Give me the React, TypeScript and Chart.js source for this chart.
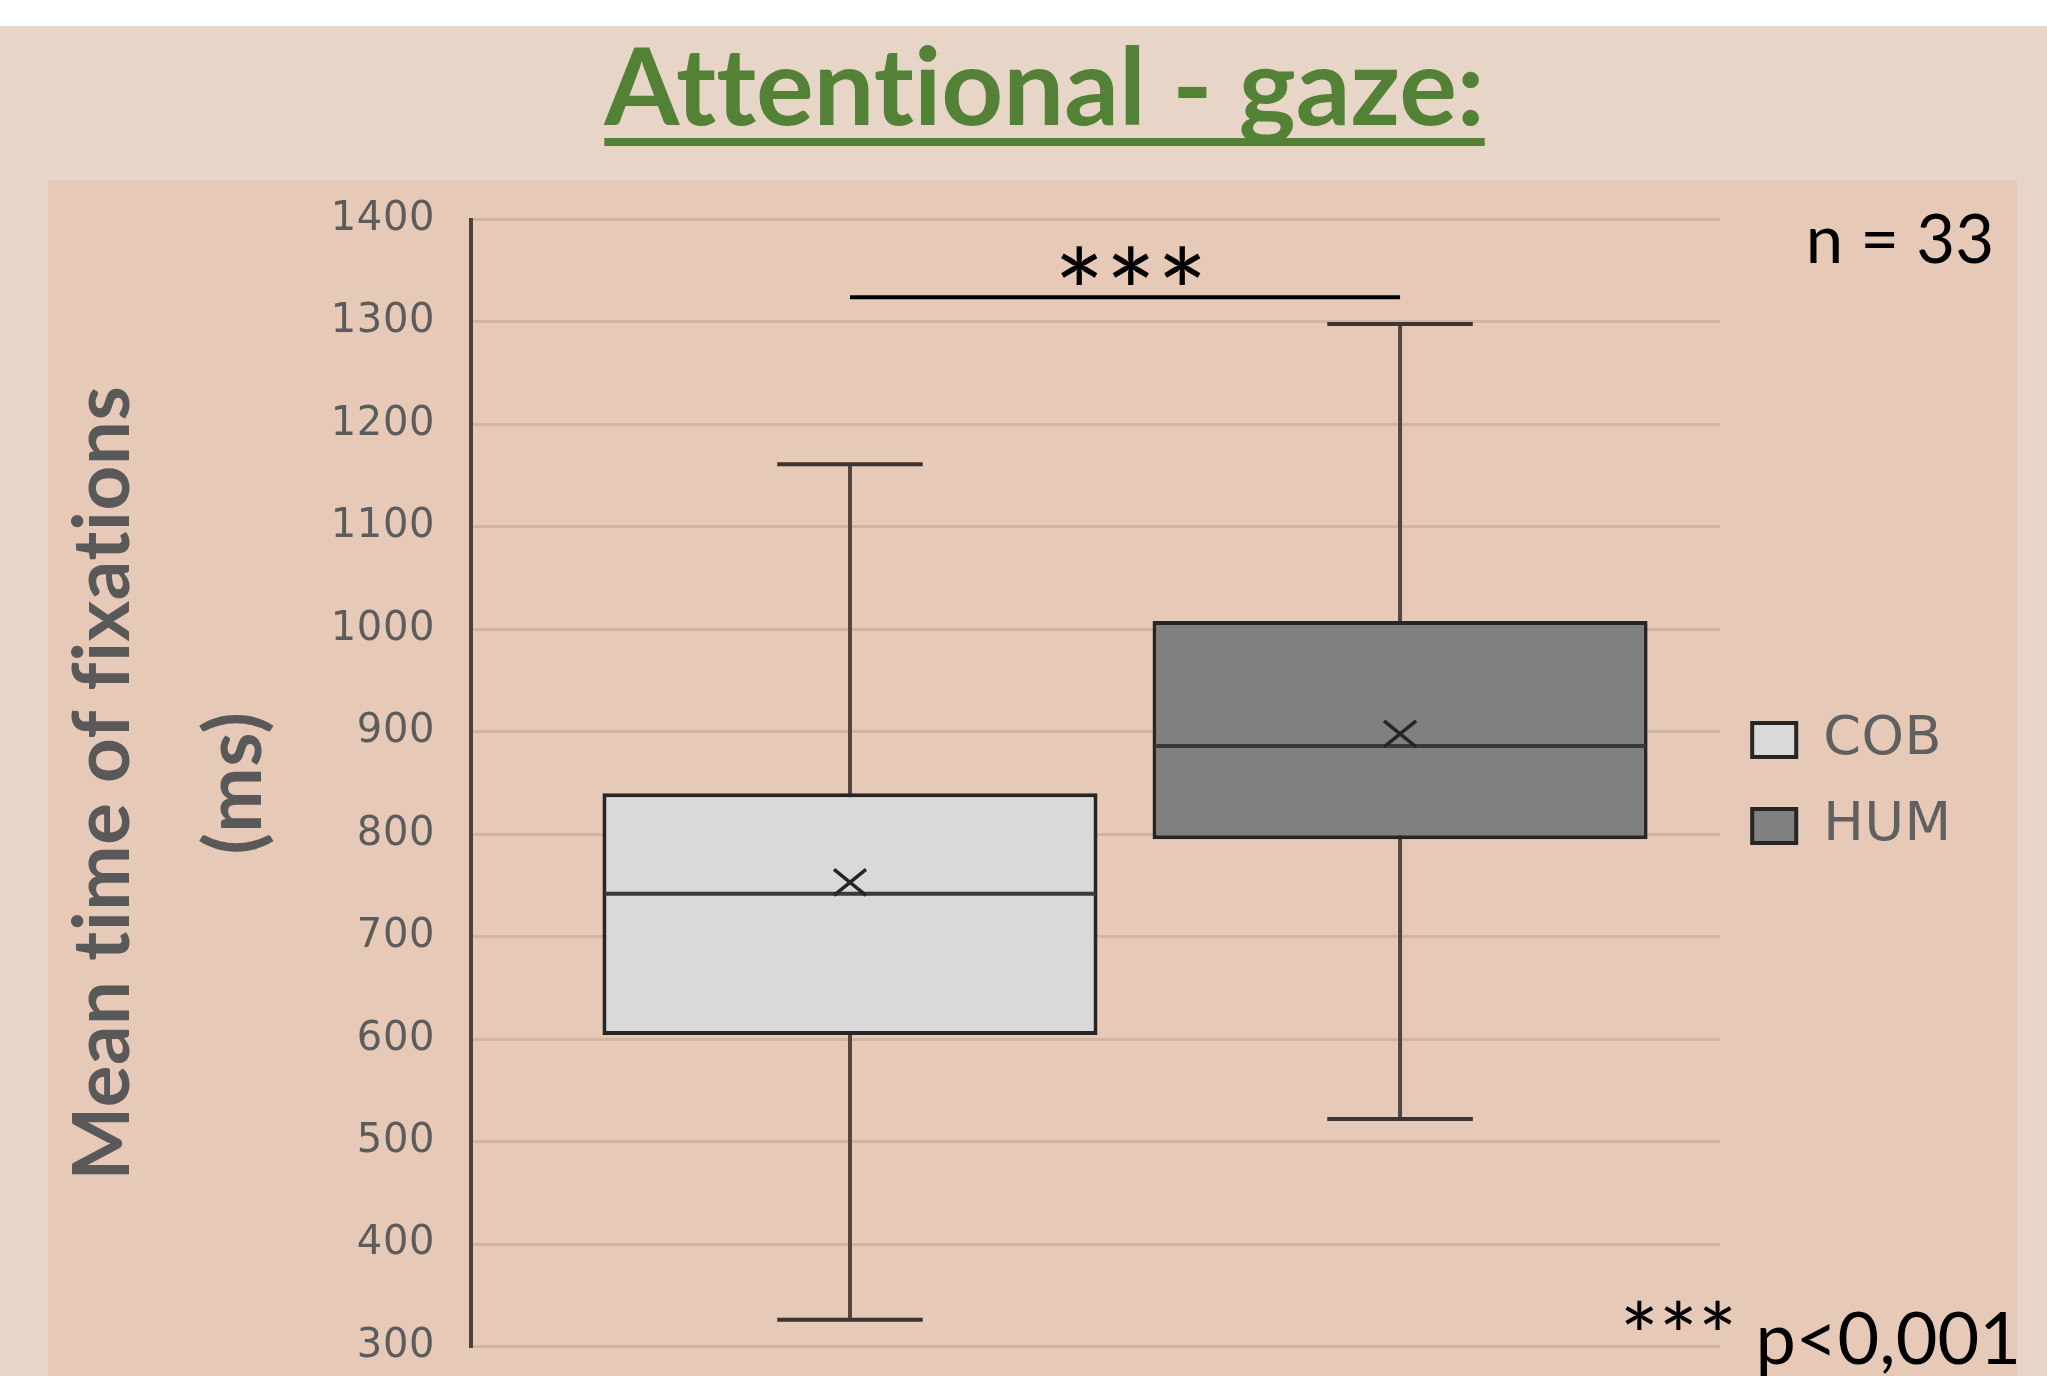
import React, { useEffect, useRef } from 'react';
import { Chart, registerables } from 'chart.js';

Chart.register(...registerables);

// ---- data ----
const groups = ['COB', 'HUM'];
const lowerWhisker = [326, 522];
const q1 = [604, 795];
const median = [742, 886];
const q3 = [840, 1008];
const upperWhisker = [1161, 1298];
const mean = [753, 898];
const boxColors = ['#D9D9D9', '#808080'];

const yMin = 300;
const yMax = 1400;
const yStep = 100;

const significanceLevel = 1324;
const significanceLabel = '***';
const titleText = 'Attentional - gaze:';
const yTitleLines = ['Mean time of fixations', '(ms)'];
const sampleLabel = 'n = 33';
const pStars = '***';
const pValueText = ' p<0,001';

const W = 2047;
const H = 1376;
const PLOT_RIGHT = 1722;

const noLigaturePlugin = {
  id: 'noLigatures',
  beforeDraw(chart: any) {
    const ctx = chart.ctx as any;
    try {
      ctx.letterSpacing = '0.6px';
    } catch (e) {
      /* ignore */
    }
  },
};

const boxPlotPlugin = {
  id: 'boxWhiskers',
  beforeDatasetsDraw(chart: any) {
    const ctx = chart.ctx;
    const y = chart.scales.y;
    groups.forEach((_, i) => {
      const bar = chart.getDatasetMeta(i).data[0];
      if (!bar) return;
      const x = bar.x;
      const capHalf = bar.width * 0.147;
      const yLo = y.getPixelForValue(lowerWhisker[i]);
      const yHi = y.getPixelForValue(upperWhisker[i]);
      ctx.save();
      ctx.strokeStyle = '#54453e';
      ctx.lineWidth = 4;
      ctx.beginPath();
      ctx.moveTo(x, yLo);
      ctx.lineTo(x, yHi);
      ctx.stroke();
      ctx.strokeStyle = '#3e3532';
      ctx.beginPath();
      ctx.moveTo(x - capHalf, yLo);
      ctx.lineTo(x + capHalf, yLo);
      ctx.moveTo(x - capHalf, yHi);
      ctx.lineTo(x + capHalf, yHi);
      ctx.stroke();
      ctx.restore();
    });
  },
  afterDatasetsDraw(chart: any) {
    const ctx = chart.ctx;
    const y = chart.scales.y;
    groups.forEach((_, i) => {
      const bar = chart.getDatasetMeta(i).data[0];
      if (!bar) return;
      const x = bar.x;
      const half = bar.width / 2;
      const ym = y.getPixelForValue(median[i]);
      ctx.save();
      ctx.strokeStyle = '#3a3a3a';
      ctx.lineWidth = 4;
      ctx.beginPath();
      ctx.moveTo(x - half + 2, ym);
      ctx.lineTo(x + half - 2, ym);
      ctx.stroke();
      const yMean = y.getPixelForValue(mean[i]);
      ctx.strokeStyle = '#262626';
      ctx.lineWidth = 3.5;
      ctx.beginPath();
      ctx.moveTo(x - 16, yMean - 13);
      ctx.lineTo(x + 16, yMean + 13);
      ctx.moveTo(x + 16, yMean - 13);
      ctx.lineTo(x - 16, yMean + 13);
      ctx.stroke();
      ctx.restore();
    });
  },
  afterDraw(chart: any) {
    const ctx = chart.ctx;
    const y = chart.scales.y;
    const a = chart.getDatasetMeta(0).data[0];
    const b = chart.getDatasetMeta(1).data[0];
    if (!a || !b) return;
    const ys = y.getPixelForValue(significanceLevel);
    ctx.save();
    ctx.strokeStyle = '#000000';
    ctx.lineWidth = 4;
    ctx.beginPath();
    ctx.moveTo(a.x, ys);
    ctx.lineTo(b.x, ys);
    ctx.stroke();
    ctx.fillStyle = '#000000';
    ctx.font = '120px Lato';
    ctx.textAlign = 'center';
    ctx.textBaseline = 'alphabetic';
    ctx.fillText(significanceLabel, (a.x + b.x) / 2 + 6, ys + 40);
    ctx.restore();
  },
};

export default function App() {
  const canvasRef = useRef<HTMLCanvasElement | null>(null);

  useEffect(() => {
    const canvas = canvasRef.current;
    if (!canvas) return;
    const chart = new Chart(canvas, {
      type: 'bar',
      data: {
        datasets: groups.map((g, i) => ({
          label: g,
          data: [{ x: i + 1, y: [q1[i], q3[i]] }],
          backgroundColor: boxColors[i],
          borderColor: '#262626',
          borderWidth: 4,
          borderSkipped: false,
          grouped: false,
          categoryPercentage: 0.9,
          barPercentage: 1.0,
        })) as any,
      },
      options: {
        responsive: false,
        devicePixelRatio: 1,
        animation: false,
        events: [],
        layout: { padding: { top: 219.5, right: 100, bottom: 29.5, left: 0 } },
        plugins: {
          tooltip: { enabled: false },
          title: { display: false },
          legend: {
            display: true,
            position: 'right',
            align: 'center',
            labels: {
              boxWidth: 44,
              boxHeight: 34,
              padding: 32,
              color: '#606060',
              font: { family: 'DejaVu Sans', size: 54 },
            },
          },
        },
        scales: {
          x: {
            type: 'linear',
            display: false,
            offset: false,
            min: 0.311,
            max: 2.582,
            ticks: { stepSize: 1, includeBounds: false },
            grid: { display: false, offset: false },
          },
          y: {
            type: 'linear',
            min: yMin,
            max: yMax,
            afterFit: (scale: any) => {
              scale.width = 471;
              scale.paddingTop = 0;
              scale.paddingBottom = 0;
            },
            ticks: {
              stepSize: yStep,
              color: '#5c5c5c',
              padding: 36,
              font: { family: 'DejaVu Sans', size: 40 },
              callback: (v: any) => String(v),
            },
            grid: { color: '#D0B5A3', lineWidth: 3, drawTicks: false },
            border: { display: true, color: '#4d423c', width: 4 },
            title: {
              display: true,
              text: yTitleLines,
              color: '#595959',
              font: { family: 'Lato', weight: 'bold', size: 78, lineHeight: 132 / 78 },
              padding: { top: 38, bottom: 0 },
            },
          },
        },
      } as any,
      plugins: [noLigaturePlugin, boxPlotPlugin],
    });
    const diff = PLOT_RIGHT - chart.chartArea.right;
    if (Math.abs(diff) > 0.5) {
      (chart.options.layout as any).padding.right -= diff;
      chart.update();
    }
    return () => chart.destroy();
  }, []);

  return (
    <div
      style={{
        position: 'fixed',
        left: 0,
        top: 0,
        width: W,
        height: H,
        overflow: 'hidden',
        background: '#ffffff',
      }}
    >
      <div style={{ position: 'absolute', left: 0, top: 26, width: W, height: H - 26, background: '#E7D5C7' }} />
      <div style={{ position: 'absolute', left: 48, top: 180, width: 2017 - 48, height: H - 180, background: '#E6C9B7' }} />
      <div
        style={{
          position: 'absolute',
          left: 1044.5,
          top: 29,
          transform: 'translateX(-50%)',
          whiteSpace: 'nowrap',
          fontFamily: 'Lato',
          fontWeight: 'bold',
          fontSize: 108,
          lineHeight: 1,
          color: '#538135',
          fontVariantLigatures: 'none',
          textDecoration: 'underline',
          textDecorationThickness: '8px',
          textUnderlineOffset: '13px',
          textDecorationSkipInk: 'none',
        } as any}
      >
        {titleText}
      </div>
      <canvas ref={canvasRef} width={W} height={H} style={{ position: 'absolute', left: 0, top: 0, width: W, height: H }} />
      <div
        style={{
          position: 'absolute',
          right: 53,
          top: 203.6,
          whiteSpace: 'nowrap',
          fontFamily: 'Lato',
          fontSize: 67,
          lineHeight: 1,
          color: '#000000',
        }}
      >
        {sampleLabel}
      </div>
      <div
        style={{
          position: 'absolute',
          right: 26,
          top: 1287.6,
          whiteSpace: 'nowrap',
          fontFamily: 'Lato',
          fontSize: 72,
          lineHeight: 1,
          color: '#000000',
        }}
      >
        <span style={{ fontSize: 92, verticalAlign: '-0.05em' }}>{pStars}</span>
        {pValueText}
      </div>
    </div>
  );
}
